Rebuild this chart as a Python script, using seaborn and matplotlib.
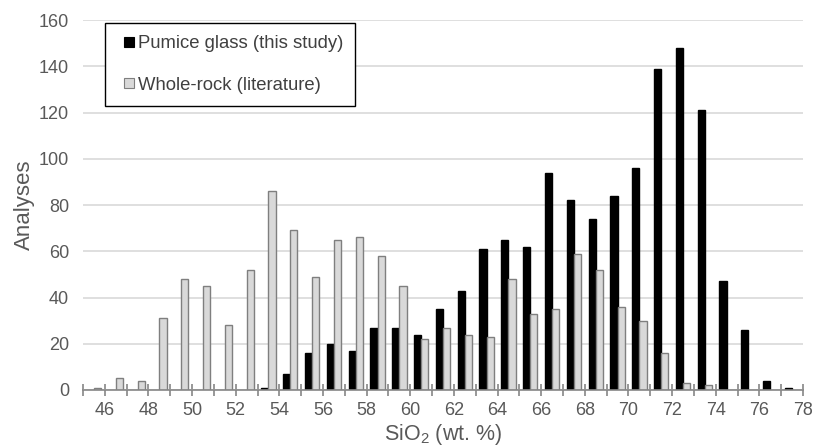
import matplotlib
matplotlib.use("Agg")
import matplotlib.pyplot as plt
from matplotlib.lines import Line2D
import numpy as np
import pandas as pd
import seaborn as sns

# ---- data ----
bin_lower = list(range(45, 78))          # SiO2 bins 45-46 ... 77-78
pumice_glass = [0, 0, 0, 0, 0, 0, 0, 0, 1, 7, 16, 20, 17, 27, 27, 24, 35,
                43, 61, 65, 62, 94, 82, 74, 84, 96, 139, 148, 121, 47, 26, 4, 1]
whole_rock = [1, 5, 4, 31, 48, 45, 28, 52, 86, 69, 49, 65, 66, 58, 45, 22, 27,
              24, 23, 48, 33, 35, 59, 52, 36, 30, 16, 3, 2, 0, 0, 0, 0]
edge_labels = ["", "46", "", "48", "", "50", "", "52", "", "54", "", "56", "",
               "58", "", "60", "", "62", "", "64", "", "66", "", "68", "", "70",
               "", "72", "", "74", "", "76", "", "78"]
series_names = ["Pumice glass (this study)", "Whole-rock (literature)"]
y_ticks = [0, 20, 40, 60, 80, 100, 120, 140, 160]

# ---- table ----
cats = [str(b) for b in bin_lower]
rows = []
for c, p, w in zip(cats, pumice_glass, whole_rock):
    if p > 0:
        rows.append((c, series_names[0], p))
    if w > 0:
        rows.append((c, series_names[1], w))
df = pd.DataFrame(rows, columns=["bin", "series", "count"])

sns.set_theme(style="white")
plt.rcParams["font.family"] = ["Liberation Sans", "DejaVu Sans"]
plt.rcParams["mathtext.default"] = "regular"

TXT = "#595959"
fig = plt.figure(figsize=(8.14, 4.48), dpi=100)
ax = fig.add_axes([0.102, 0.1295, 0.8845, 0.8255])

fills = {series_names[0]: "#000000", series_names[1]: "#d9d9d9"}
edges = {series_names[0]: "#000000", series_names[1]: "#7f7f7f"}
sns.barplot(data=df, x="bin", y="count", hue="series", order=cats,
            hue_order=series_names, palette=fills, width=0.66, gap=0,
            saturation=1, legend=False, ax=ax, zorder=3)
for cont, name in zip(ax.containers, series_names):
    for patch in cont:
        patch.set_edgecolor(edges[name])
        patch.set_linewidth(1.0)

ax.set_ylim(y_ticks[0], y_ticks[-1])
ax.set_yticks(y_ticks)
ax.set_xlim(-0.5, len(cats) - 0.5)
ax.set_xticks(np.arange(len(edge_labels)) - 0.5)
ax.set_xticklabels(edge_labels)

ax.grid(axis="y", color="#d9d9d9", linewidth=1.2, zorder=0)
ax.grid(axis="x", visible=False)
for s in ["top", "right", "left"]:
    ax.spines[s].set_visible(False)
ax.spines["bottom"].set_color("#868686")
ax.spines["bottom"].set_linewidth(1.2)
ax.spines["bottom"].set_zorder(4)

ax.tick_params(axis="x", direction="inout", length=9, width=1.2,
               color="#868686", labelsize=13, labelcolor=TXT, pad=4, bottom=True)
ax.tick_params(axis="y", length=0, labelsize=13, labelcolor=TXT, pad=10)

ax.set_xlabel("SiO$_2$ (wt. %)", fontsize=15.5, color=TXT, labelpad=2)
ax.set_ylabel("Analyses", fontsize=16, color=TXT, labelpad=3)

handles = [Line2D([], [], marker="s", linestyle="none", markersize=7.5,
                  markerfacecolor=fills[n], markeredgecolor=edges[n],
                  markeredgewidth=0.8) for n in series_names]
leg = ax.legend(handles, series_names, loc="upper left",
                bbox_to_anchor=(0.031, 0.992), fontsize=13.3, frameon=True,
                fancybox=False, edgecolor="#000000", framealpha=1,
                labelspacing=1.33, borderpad=0.66, handlelength=1.2,
                handletextpad=-0.1, borderaxespad=0, labelcolor="#404040")
leg.get_frame().set_linewidth(1.0)
leg.set_zorder(5)

fig.savefig("out.png", dpi=100)
